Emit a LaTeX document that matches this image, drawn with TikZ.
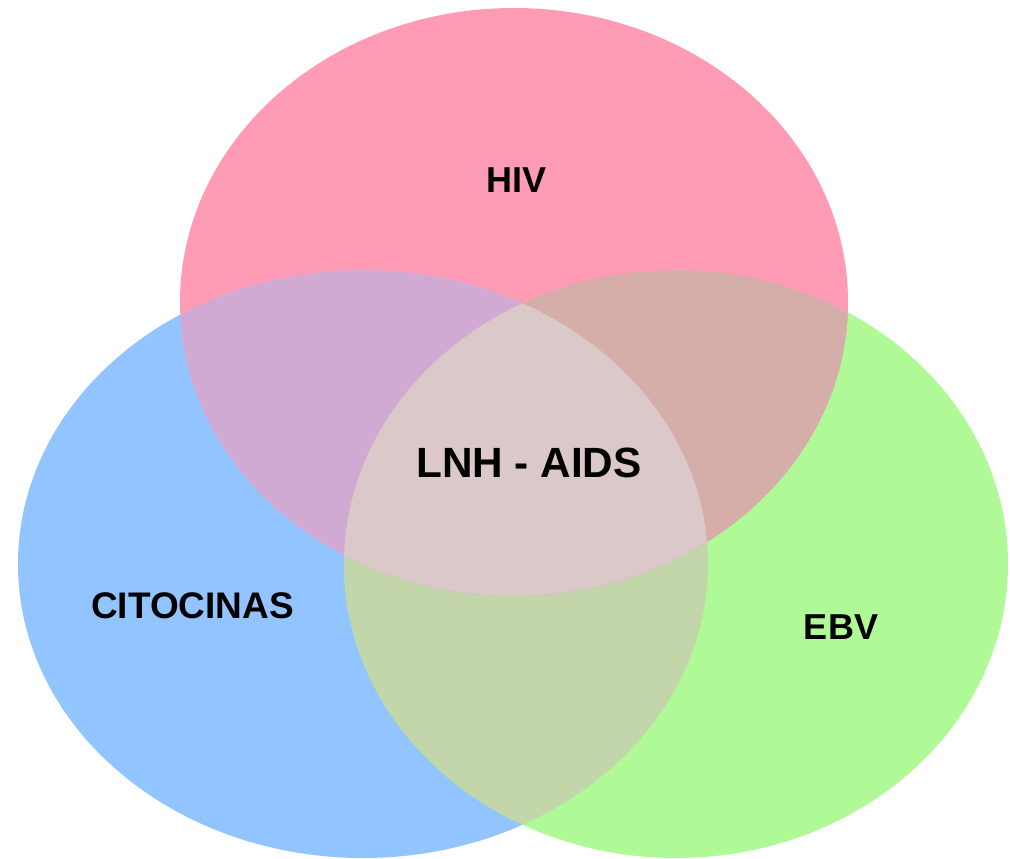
\documentclass[tikz,border=0pt]{standalone}
\usepackage{fontspec}
\setmainfont{Liberation Sans}
\definecolor{cpink}{HTML}{FF9BB5}
\definecolor{cblue}{HTML}{92C5FF}
\definecolor{cgreen}{HTML}{AFF996}
\definecolor{cpb}{HTML}{D1AAD3}
\definecolor{cpg}{HTML}{D5AEAA}
\definecolor{cbg}{HTML}{C2D6AA}
\definecolor{call}{HTML}{DBC9C9}
\tikzset{
  pinkE/.style={insert path={(514,302) ellipse [x radius=334pt, y radius=294pt]}},
  blueE/.style={insert path={(363,564) ellipse [x radius=345pt, y radius=294pt]}},
  greenE/.style={insert path={(676,564) ellipse [x radius=332pt, y radius=294pt]}},
  lbl/.style={inner sep=0pt, font=\fontsize{36}{40}\selectfont\bfseries},
  mainlbl/.style={inner sep=0pt, font=\fontsize{42.3}{46}\selectfont\bfseries}
}
\begin{document}
\begin{tikzpicture}[x=1pt,y=-1pt]
\fill[white] (0,0) rectangle (1010,859);
\useasboundingbox (0,0) rectangle (1010,859);
\fill[cblue, blueE];
\fill[cgreen, greenE];
\fill[cpink, pinkE];
\begin{scope}
  \clip[blueE];
  \fill[cbg, greenE];
\end{scope}
\begin{scope}
  \clip[blueE];
  \fill[cpb, pinkE];
\end{scope}
\begin{scope}
  \clip[greenE];
  \fill[cpg, pinkE];
\end{scope}
\begin{scope}
  \clip[blueE];
  \clip[greenE];
  \fill[call, pinkE];
\end{scope}
\node[lbl] (hiv) at (517,180) {HIV};
\node[lbl, font=\fontsize{37}{40}\selectfont\bfseries] (cit) at (192.5,606) {CITOCINAS};
\node[lbl] (ebv) at (841,627) {EBV};
\node[mainlbl] (lnh) at (529,462.5) {LNH - AIDS};
\end{tikzpicture}
\end{document}
